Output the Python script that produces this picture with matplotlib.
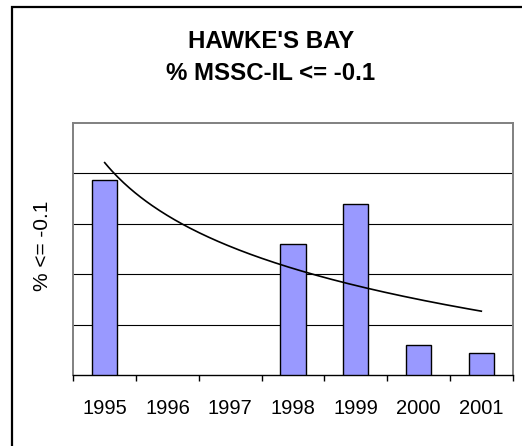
import numpy as np
import matplotlib
matplotlib.use("Agg")
import matplotlib.pyplot as plt
from matplotlib.patches import Rectangle

# dados do gráfico (1996 e 1997 sem dados)
anos = ['1995', '1996', '1997', '1998', '1999', '2000', '2001']
percentual = [38.7, np.nan, np.nan, 25.9, 33.9, 5.9, 4.3]

plt.rcParams['font.family'] = ['Liberation Sans', 'DejaVu Sans']

W, H = 522, 446
fig = plt.figure(figsize=(W / 100, H / 100), dpi=100)

def px(x, y):
    return x / W, 1 - y / H

# moldura externa (só esquerda e topo aparecem)
x0, y0 = px(12, 7)
fig.add_artist(Rectangle((x0, -0.5), 1.5, y0 + 0.5, transform=fig.transFigure,
                         fill=False, edgecolor='black', linewidth=1.6))

esq, base = px(73.3, 375)
dir_, topo = px(512.7, 123)
ax = fig.add_axes([esq, base, dir_ - esq, topo - base])

x = np.arange(1, len(anos) + 1)
y = np.array(percentual, dtype=float)
ok = ~np.isnan(y)
ax.bar(x[ok], y[ok], width=0.4, color='#9999FF', edgecolor='black',
       linewidth=1.0, zorder=3)

# linha de tendência logarítmica (como no Excel)
b, a = np.polyfit(np.log(x[ok]), y[ok], 1)
xt = np.linspace(1, 7, 200)
ax.plot(xt, a + b * np.log(xt), color='black', linewidth=1.2, zorder=4)

ax.set_xlim(0.5, 7.5)
ax.set_ylim(0, 50)
ax.set_yticks([10, 20, 30, 40])
ax.set_yticklabels([])
ax.tick_params(axis='y', length=0)
ax.grid(axis='y', color='black', linewidth=0.8, zorder=0)

ax.set_xticks(np.arange(0.5, 8.0, 1.0))
ax.set_xticklabels([])
ax.tick_params(axis='x', which='major', direction='out', length=4.5,
               width=1.0, color='black')
ax.set_xticks(x, minor=True)
ax.set_xticklabels(anos, minor=True, fontsize=14.5)
ax.tick_params(axis='x', which='minor', length=0, pad=17)

for lado in ['left', 'top', 'right']:
    ax.spines[lado].set_color('#808080')
    ax.spines[lado].set_linewidth(1.4)
ax.spines['bottom'].set_color('black')
ax.spines['bottom'].set_linewidth(1.0)

ax.set_ylabel('% <= -0.1', fontsize=15)
ax.yaxis.set_label_coords(-0.0485, 0.512)

tx, ty1 = px(271, 41)
_, ty2 = px(271, 74)
fig.text(tx, ty1, "HAWKE'S BAY", ha='center', va='center',
         fontsize=17.3, fontweight='bold')
fig.text(tx, ty2, "% MSSC-IL <= -0.1", ha='center', va='center',
         fontsize=17.3, fontweight='bold')

fig.savefig('out.png', dpi=100)
